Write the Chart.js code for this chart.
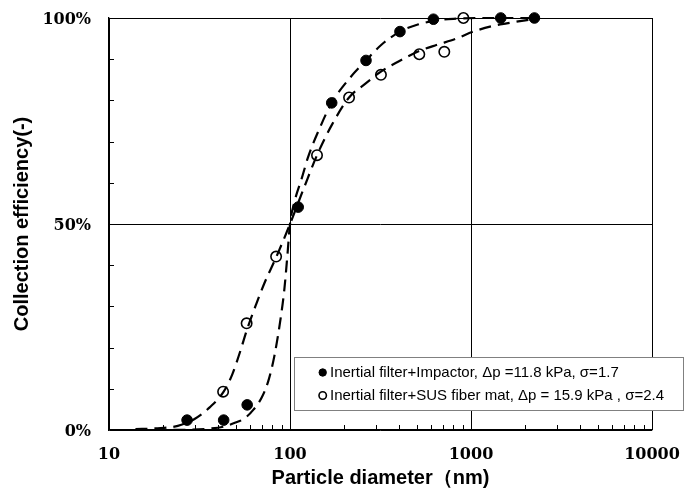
<!DOCTYPE html>
<html>
<head>
<meta charset="utf-8">
<script src="https://cdn.jsdelivr.net/npm/chart.js@4.4.1/dist/chart.umd.min.js"></script>
<style>
html,body{margin:0;padding:0;background:#fff;}
#wrap{width:684px;height:496px;position:relative;}
</style>
</head>
<body>
<div id="wrap"><canvas id="c"></canvas></div>
<script>
// Measured points
const impactorX = [27, 43, 58, 111, 170, 263, 405, 620, 1460, 2240];
const impactorY = [2.4, 2.4, 6.1, 54.1, 79.4, 89.7, 96.7, 99.7, 100, 100];
const susX = [42.7, 57.6, 83.8, 141, 212, 318, 518, 712, 908];
const susY = [9.3, 25.9, 42.1, 66.7, 80.7, 86.2, 91.2, 91.8, 100];

// Fitted curves
const fitImpX = [14, 25, 35, 43, 50, 56, 63, 70, 76, 82, 88, 93, 97, 100, 106, 116, 126, 145, 170, 210, 263, 320, 405, 500, 620, 800, 1100, 1500, 2240];
const fitImpY = [0, 0.05, 0.3, 0.8, 1.8, 2.8, 5, 8, 12, 18, 26, 34, 43, 50, 55.5, 61, 66.3, 73, 79.4, 85, 89.7, 93.5, 96.7, 98.3, 99.3, 99.8, 100, 100, 100];
const fitSusX = [14, 18, 24, 30, 36, 43, 48, 53, 58, 65, 72, 84, 100, 120, 141, 170, 212, 260, 318, 400, 518, 650, 830, 1030, 1300, 1574, 2240];
const fitSusY = [0.2, 0.4, 1.0, 2.8, 5.5, 9.3, 13.5, 19, 24.5, 30.5, 35.5, 42, 50, 59, 66.7, 74, 80.7, 84, 87, 89.5, 92, 93.5, 95, 96.7, 98, 98.7, 99.8];

// Axis ticks
const xMajor = [10, 100, 1000, 10000];
const xMinor = [20,30,40,50,60,70,80,90,200,300,400,500,600,700,800,900,2000,3000,4000,5000,6000,7000,8000,9000];
const yMajor = [0, 50, 100];
const yMinor = [10,20,30,40,60,70,80,90];

const legendImp = 'Inertial filter+Impactor, \u0394p =11.8 kPa, \u03c3=1.7';
const legendSus = 'Inertial filter+SUS fiber mat, \u0394p = 15.9 kPa , \u03c3=2.4';

const pts = (xs, ys) => xs.map((x, i) => ({x: x, y: ys[i]}));

const minorTicks = {
  id: 'minorTicks',
  afterDraw(chart) {
    const ctx = chart.ctx, xs = chart.scales.x, ys = chart.scales.y, a = chart.chartArea;
    ctx.save();
    ctx.strokeStyle = '#000';
    ctx.lineWidth = 1;
    ctx.beginPath();
    xMinor.forEach(v => {
      const px = Math.round(xs.getPixelForValue(v)) + 0.5;
      ctx.moveTo(px, a.bottom); ctx.lineTo(px, a.bottom - 5);
    });
    yMinor.forEach(v => {
      const py = Math.round(ys.getPixelForValue(v)) + 0.5;
      ctx.moveTo(a.left, py); ctx.lineTo(a.left + 5, py);
    });
    ctx.stroke();
    ctx.restore();
  }
};

const boxLegend = {
  id: 'boxLegend',
  afterDraw(chart) {
    const ctx = chart.ctx;
    const left = 294.5, top = 357.5, w = 389, h = 53;
    ctx.save();
    ctx.fillStyle = '#fff';
    ctx.fillRect(left, top, w, h);
    ctx.strokeStyle = '#808080';
    ctx.lineWidth = 1;
    ctx.strokeRect(left, top, w, h);
    [0, 1].forEach(i => {
      const ds = chart.data.datasets[i];
      const y = top + 15 + i * 23;
      ctx.fillStyle = ds.backgroundColor;
      ctx.strokeStyle = ds.borderColor;
      ctx.lineWidth = ds.legendBorder;
      Chart.helpers.drawPoint(ctx, {pointStyle: 'circle', radius: 3.7, rotation: 0, borderWidth: ds.legendBorder}, 322.7, y);
      ctx.fillStyle = '#000';
      ctx.font = '15px "Liberation Sans", Arial, sans-serif';
      ctx.textBaseline = 'middle';
      ctx.textAlign = 'left';
      ctx.fillText(ds.label, 330, y);
    });
    ctx.restore();
  }
};

const tickFont = {family: '"DejaVu Serif", serif', weight: 'bold', size: 16};
const titleFont = {family: '"Liberation Sans", Arial, sans-serif', weight: 'bold', size: 20};

new Chart(document.getElementById('c'), {
  type: 'scatter',
  data: {
    datasets: [
      {label: legendImp, data: pts(impactorX, impactorY), pointRadius: 5.3, pointHoverRadius: 5.3,
       backgroundColor: '#000', borderColor: '#000', borderWidth: 1, legendBorder: 1, showLine: false, clip: false},
      {label: legendSus, data: pts(susX, susY), pointRadius: 5.2, pointHoverRadius: 5.2,
       backgroundColor: 'rgba(0,0,0,0)', borderColor: '#000', borderWidth: 1.6, legendBorder: 1.6, showLine: false, clip: false},
      {label: 'fit1', data: pts(fitImpX, fitImpY), showLine: true, pointRadius: 0, borderColor: '#000',
       borderWidth: 2.2, borderDash: [12, 7], cubicInterpolationMode: 'monotone', fill: false, clip: false},
      {label: 'fit2', data: pts(fitSusX, fitSusY), showLine: true, pointRadius: 0, borderColor: '#000',
       borderWidth: 2.2, borderDash: [12, 7], cubicInterpolationMode: 'monotone', fill: false, clip: false}
    ]
  },
  options: {
    responsive: true,
    maintainAspectRatio: false,
    animation: false,
    events: [],
    layout: {padding: {top: 18, right: 32, bottom: 0, left: 0}},
    plugins: {legend: {display: false}, tooltip: {enabled: false}},
    scales: {
      x: {
        type: 'logarithmic', min: 10, max: 10000,
        afterFit: s => { s.height = 66; s.paddingLeft = 0; s.paddingRight = 0; },
        afterBuildTicks: s => { s.ticks = xMajor.concat(xMinor).sort((a, b) => a - b).map(v => ({value: v, major: xMajor.includes(v)})); },
        ticks: {autoSkip: false, maxRotation: 0, padding: 15.5, color: '#000', font: tickFont,
          callback: v => xMajor.includes(v) ? String(v) : ''},
        grid: {drawTicks: false, lineWidth: 1, color: c => (c.tick && xMajor.includes(c.tick.value)) ? '#000' : 'rgba(0,0,0,0)'},
        border: {display: true, color: '#000', width: 1.3},
        title: {display: true, text: 'Particle diameter\uff08nm)', color: '#000', font: titleFont, padding: {top: 0, bottom: 6}}
      },
      y: {
        type: 'linear', min: 0, max: 100,
        afterFit: s => { s.width = 109; s.paddingTop = 0; s.paddingBottom = 0; },
        afterBuildTicks: s => { s.ticks = yMajor.map(v => ({value: v})); },
        ticks: {autoSkip: false, padding: 18, labelOffset: 1.5, color: '#000', font: tickFont, callback: v => v + '%'},
        grid: {drawTicks: false, lineWidth: 1, color: '#000'},
        border: {display: true, color: '#000', width: 1.3},
        title: {display: true, text: 'Collection efficiency(-)', color: '#000', font: titleFont, padding: {top: 10.5, bottom: 0}}
      }
    }
  },
  plugins: [minorTicks, boxLegend]
});
</script>
</body>
</html>
